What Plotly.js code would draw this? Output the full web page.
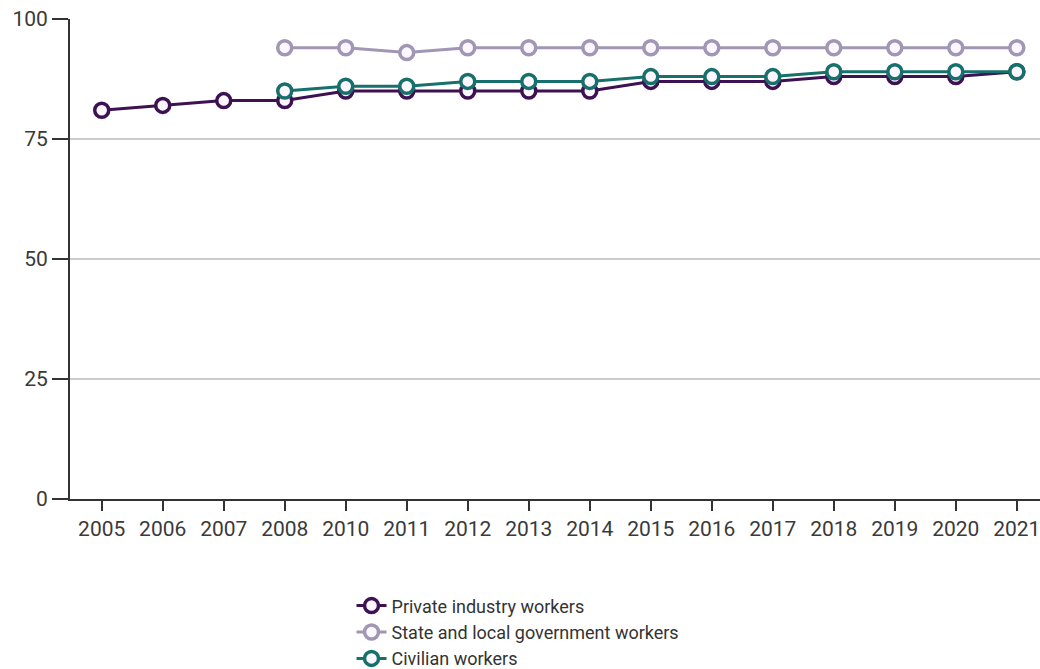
<!DOCTYPE html>
<html>
<head>
<meta charset="utf-8">
<script src="https://cdn.plot.ly/plotly-3.0.1.min.js"></script>
<style>html,body{margin:0;padding:0;background:#fff;}#chart{width:1040px;height:669px;}</style>
</head>
<body>
<div id="chart"></div>
<script>
const years = ["2005","2006","2007","2008","2010","2011","2012","2013","2014","2015","2016","2017","2018","2019","2020","2021"];
const privateYears = years;
const privateVals = [81,82,83,83,85,85,85,85,85,87,87,87,88,88,88,89];
const stateYears = ["2008","2010","2011","2012","2013","2014","2015","2016","2017","2018","2019","2020","2021"];
const stateVals = [94,94,93,94,94,94,94,94,94,94,94,94,94];
const civilianYears = stateYears;
const civilianVals = [85,86,86,87,87,87,88,88,88,89,89,89,89];
const yTicks = [0,25,50,75,100];

function tr(name, x, y, color){
  return {type:'scatter', mode:'lines+markers', name:name, x:x, y:y,
    line:{color:color, width:3},
    marker:{size:14, color:'#fcf6ff', line:{color:color, width:3.5}},
    cliponaxis:false};
}
const data = [
  tr('Private industry workers', privateYears, privateVals, '#3d1152'),
  tr('State and local government workers', stateYears, stateVals, '#a196b4'),
  tr('Civilian workers', civilianYears, civilianVals, '#17706b')
];
const layout = {
  width:1040, height:669,
  margin:{l:70, r:0, t:19, b:170, autoexpand:false},
  paper_bgcolor:'#fff', plot_bgcolor:'#fff',
  font:{family:'Roboto, sans-serif', color:'#3a3a3a'},
  showlegend:true,
  legend:{xref:'container', yref:'container', x:0.338, xanchor:'left', y:0.122, yanchor:'top', orientation:'v',
    font:{size:18, color:'#333'}, tracegroupgap:0, itemwidth:30},
  xaxis:{type:'category', categoryorder:'array', categoryarray:years,
    range:[-0.52, 15.38], showgrid:false, zeroline:false,
    showline:true, linecolor:'#333', linewidth:2,
    ticks:'outside', ticklen:10, tickwidth:2, tickcolor:'#333',
    tickfont:{size:21, color:'#3a3a3a'}, fixedrange:true},
  yaxis:{range:[0,100], tickvals:yTicks, ticktext:yTicks.map(String),
    showgrid:true, gridcolor:'#cccccc', gridwidth:2, zeroline:false,
    showline:true, linecolor:'#333', linewidth:2,
    ticks:'outside', ticklen:16, tickwidth:2, tickcolor:'#333',
    tickfont:{size:21, color:'#3a3a3a'}, fixedrange:true}
};
Plotly.newPlot('chart', data, layout, {displayModeBar:false, staticPlot:true});
</script>
</body>
</html>
